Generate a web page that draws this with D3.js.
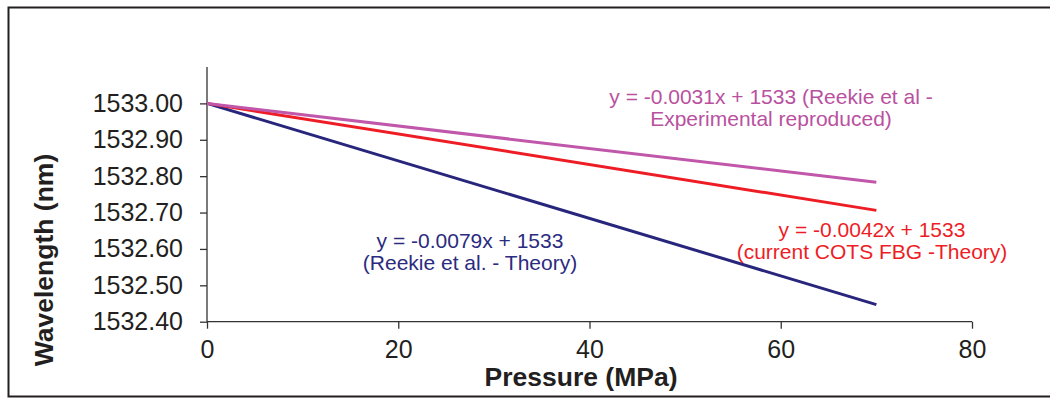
<!DOCTYPE html>
<html>
<head>
<meta charset="utf-8">
<script src="https://cdn.jsdelivr.net/npm/d3@7"></script>
<style>
  html, body { margin: 0; padding: 0; background: #fff; }
  svg { display: block; }
</style>
</head>
<body>
<svg id="chart" width="1050" height="399"></svg>
<script>
// ---- data ----
const pressure = [0, 70];
const reekieTheory = [1533.0, 1532.447];
const cotsTheory = [1533.0, 1532.706];
const reekieExperimental = [1533.0, 1532.783];
const xTicks = [0, 20, 40, 60, 80];
const yTicks = [1532.4, 1532.5, 1532.6, 1532.7, 1532.8, 1532.9, 1533.0];
const seriesNames = ["Reekie et al. - Theory", "current COTS FBG -Theory", "Reekie et al - Experimental reproduced"];
const labelLines = [
  ["y = -0.0079x + 1533", "(Reekie et al. - Theory)"],
  ["y = -0.0042x + 1533", "(current COTS FBG -Theory)"],
  ["y = -0.0031x + 1533 (Reekie et al -", "Experimental reproduced)"]
];

// ---- layout ----
const svg = d3.select("#chart");
const colors = ["#27267c", "#ee1d25", "#c057aa"];
const textColors = ["#2b2b80", "#ee1d25", "#b9519f"];
const x = d3.scaleLinear().domain([0, 80]).range([207, 972]);
const y = d3.scaleLinear().domain([1532.4, 1533.1]).range([321.7, 67]);

// frame (left, top, bottom)
svg.append("path")
  .attr("d", "M1050,7.5 L8.5,7.5 L8.5,396.5 L1050,396.5")
  .attr("fill", "none").attr("stroke", "#231f20").attr("stroke-width", 2);

// axes
const axisColor = "#333";
const yAxis = d3.axisLeft(y).tickValues(yTicks).tickSize(7).tickPadding(17)
  .tickFormat(d3.format(".2f"));
const gy = svg.append("g").attr("transform", `translate(${x(0)},0)`).call(yAxis);
gy.select(".domain").attr("stroke", axisColor).attr("stroke-width", 1.3)
  .attr("d", `M0,${y(1533.1)}V${y(1532.4)}`);
gy.selectAll(".tick line").attr("stroke", axisColor).attr("stroke-width", 1.3);
gy.selectAll(".tick text").attr("fill", "#231f20")
  .style("font-family", "'Liberation Sans', Arial, sans-serif").style("font-size", "25px");

const xAxis = d3.axisBottom(x).tickValues(xTicks).tickSize(7).tickPadding(12)
  .tickFormat(d3.format("d"));
const gx = svg.append("g").attr("transform", `translate(0,${y(1532.4)})`).call(xAxis);
gx.select(".domain").attr("stroke", axisColor).attr("stroke-width", 1.3)
  .attr("d", `M${x(0)},0H${x(80)}`);
gx.selectAll(".tick line").attr("stroke", axisColor).attr("stroke-width", 1.3);
gx.selectAll(".tick text").attr("fill", "#231f20")
  .style("font-family", "'Liberation Sans', Arial, sans-serif").style("font-size", "25px");

// series lines
const series = [reekieTheory, cotsTheory, reekieExperimental];
const line = d3.line().x((d, i) => x(pressure[i])).y(d => y(d));
series.forEach((vals, i) => {
  svg.append("path").datum(vals)
    .attr("d", line)
    .attr("fill", "none")
    .attr("stroke", colors[i])
    .attr("stroke-width", 3)
    .attr("data-name", seriesNames[i]);
});

// trendline labels
const labelPos = [
  {cx: 470, y0: 248},
  {cx: 872, y0: 237},
  {cx: 771, y0: 104}
];
labelLines.forEach((lines, i) => {
  const t = svg.append("text")
    .attr("text-anchor", "middle")
    .attr("fill", textColors[i])
    .style("font-family", "'Liberation Sans', Arial, sans-serif")
    .style("font-size", "21px");
  lines.forEach((s, j) => {
    t.append("tspan").attr("x", labelPos[i].cx).attr("y", labelPos[i].y0 + j * 21.5).text(s);
  });
});

// axis titles
svg.append("text")
  .attr("x", 581).attr("y", 386)
  .attr("text-anchor", "middle")
  .attr("fill", "#231f20")
  .style("font-family", "'Liberation Sans', Arial, sans-serif")
  .style("font-size", "26.5px").style("font-weight", "bold")
  .text("Pressure (MPa)");

svg.append("text")
  .attr("transform", "translate(53,260) rotate(-90)")
  .attr("text-anchor", "middle")
  .attr("fill", "#231f20")
  .style("font-family", "'Liberation Sans', Arial, sans-serif")
  .style("font-size", "26.5px").style("font-weight", "bold")
  .text("Wavelength (nm)");
</script>
</body>
</html>
